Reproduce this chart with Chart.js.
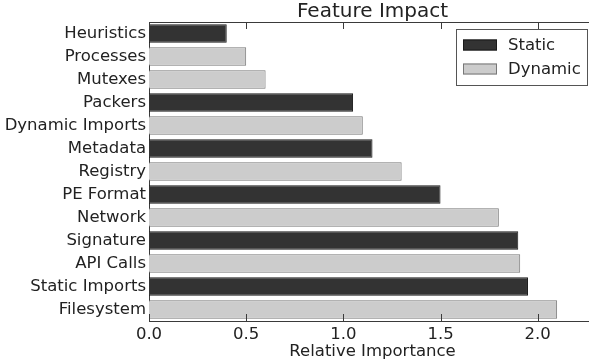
<!DOCTYPE html>
<html>
<head>
<meta charset="utf-8">
<script src="https://cdn.jsdelivr.net/npm/chart.js@4/dist/chart.umd.min.js"></script>
<style>
  html, body { margin: 0; padding: 0; background: #fff; overflow: hidden; width: 589px; height: 363px; }
  canvas { display: block; }
</style>
</head>
<body>
<canvas id="c" width="596" height="363"></canvas>
<script>
const categories = ["Heuristics", "Processes", "Mutexes", "Packers", "Dynamic Imports", "Metadata", "Registry", "PE Format", "Network", "Signature", "API Calls", "Static Imports", "Filesystem"];
const staticValues  = [0.40, null, null, 1.05, null, 1.15, null, 1.50, null, 1.90, null, 1.95, null];
const dynamicValues = [null, 0.50, 0.60, null, 1.10, null, 1.30, null, 1.80, null, 1.91, null, 2.10];
const xTickValues = [0, 0.5, 1.0, 1.5, 2.0];
const seriesNames = ["Static", "Dynamic"];
const chartTitle = "Feature Impact";
const xAxisTitle = "Relative Importance";

const FONT = "'DejaVu Sans', sans-serif";
const FS = 16.5;
const SPINE = "#3a3a3a";

const spinesAndTicks = {
  id: 'spinesAndTicks',
  afterDraw(chart) {
    const { ctx, chartArea } = chart;
    const x = chart.scales.x;
    ctx.save();
    ctx.strokeStyle = SPINE;
    ctx.lineWidth = 1;
    // top spine
    ctx.beginPath();
    ctx.moveTo(chartArea.left, chartArea.top + 0.5);
    ctx.lineTo(chartArea.right, chartArea.top + 0.5);
    ctx.stroke();
    // inward ticks top & bottom
    xTickValues.forEach(v => {
      const px = Math.round(x.getPixelForValue(v)) + 0.5;
      ctx.beginPath();
      ctx.moveTo(px, chartArea.top);
      ctx.lineTo(px, chartArea.top + 7);
      ctx.moveTo(px, chartArea.bottom);
      ctx.lineTo(px, chartArea.bottom - 7);
      ctx.stroke();
    });
    // legend
    const lx = 456, ly = 29, lw = 131, lh = 56;
    ctx.fillStyle = '#ffffff';
    ctx.fillRect(lx, ly, lw, lh);
    ctx.strokeStyle = '#555555';
    ctx.strokeRect(lx + 0.5, ly + 0.5, lw, lh);
    ctx.font = FS + "px " + FONT;
    ctx.textBaseline = 'middle';
    ctx.textAlign = 'left';
    chart.data.datasets.forEach((ds, i) => {
      const cy = 45 + i * 24;
      ctx.fillStyle = ds.backgroundColor;
      ctx.fillRect(463, cy - 5.5, 34, 11);
      ctx.strokeStyle = ds.borderColor;
      ctx.lineWidth = 1;
      ctx.strokeRect(463.5, cy - 5, 33, 10);
      ctx.fillStyle = '#222222';
      ctx.fillText(ds.label, 508, cy + 1);
    });
    ctx.restore();
  }
};

new Chart(document.getElementById('c'), {
  type: 'bar',
  data: {
    labels: categories,
    datasets: [
      { label: seriesNames[0], data: staticValues, backgroundColor: '#333333', borderColor: '#1a1a1a', borderWidth: 1, grouped: false, categoryPercentage: 0.8, barPercentage: 1.0 },
      { label: seriesNames[1], data: dynamicValues, backgroundColor: '#cccccc', borderColor: '#777777', borderWidth: 1, grouped: false, categoryPercentage: 0.8, barPercentage: 1.0 }
    ]
  },
  options: {
    indexAxis: 'y',
    responsive: false,
    animation: false,
    layout: { padding: { left: 0, right: 0, top: 0, bottom: 0 } },
    plugins: {
      legend: { display: false },
      tooltip: { enabled: false },
      title: {
        display: true,
        text: chartTitle,
        color: '#222222',
        font: { family: FONT, size: 20, weight: 'normal', lineHeight: 1.05 },
        padding: { top: 1, bottom: 0 },
        align: 'end'
      }
    },
    scales: {
      x: {
        type: 'linear',
        min: 0,
        max: 2.3,
        afterBuildTicks(scale) { scale.ticks = xTickValues.map(v => ({ value: v })); },
        afterFit(scale) { scale.height = 42; },
        grid: { display: false, drawTicks: false },
        border: { display: true, color: SPINE, width: 1 },
        ticks: {
          color: '#222222',
          padding: 4,
          font: { family: FONT, size: FS },
          maxRotation: 0,
          callback: (v) => Number(v).toFixed(1)
        },
        title: {
          display: true,
          text: xAxisTitle,
          color: '#222222',
          font: { family: FONT, size: FS },
          padding: { top: 0, bottom: 1 }
        }
      },
      y: {
        type: 'category',
        afterFit(scale) { scale.width = 149; },
        grid: { display: false, drawTicks: false },
        border: { display: true, color: SPINE, width: 1 },
        ticks: {
          color: '#222222',
          padding: 3,
          font: { family: FONT, size: FS },
          autoSkip: false
        }
      }
    }
  },
  plugins: [spinesAndTicks, {
    id: 'titleCenter',
    afterLayout(chart) {
      const t = chart.titleBlock;
      if (t) {
        const ca = chart.chartArea;
        t.left = ca.left; t.right = ca.right; t.width = ca.right - ca.left;
        t.options.align = 'center';
      }
    }
  }]
});
</script>
</body>
</html>
